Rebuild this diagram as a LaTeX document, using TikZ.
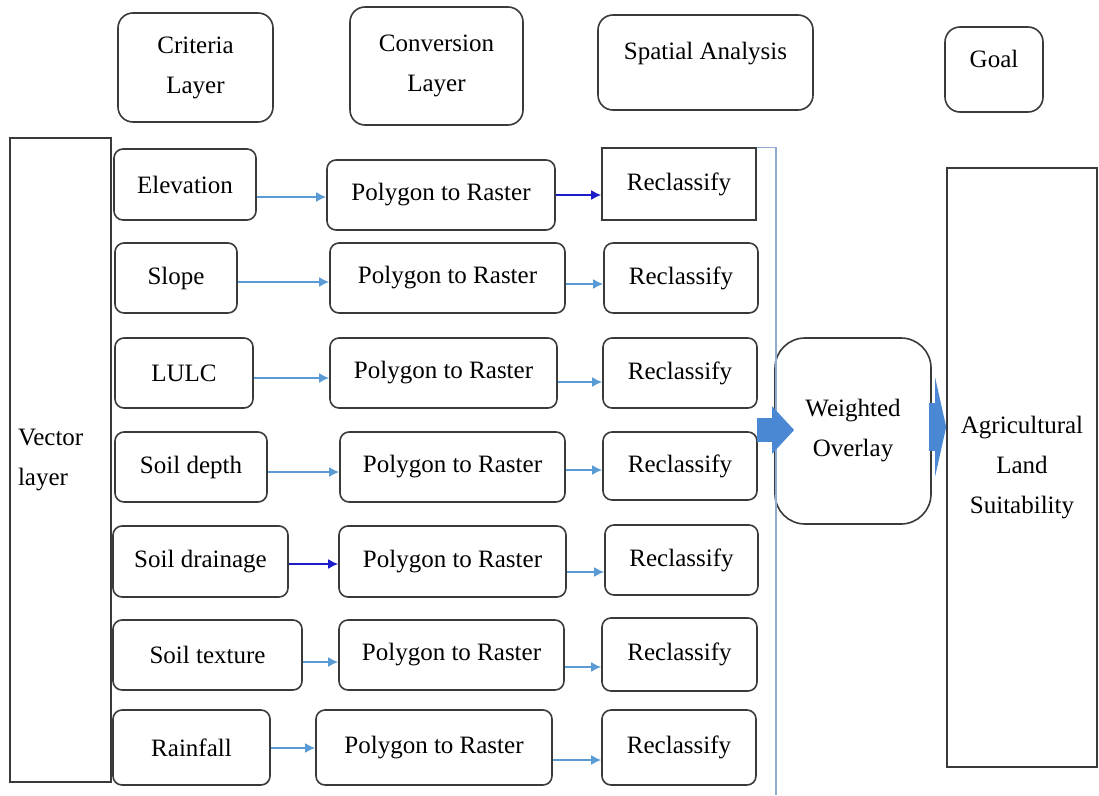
\documentclass[tikz,border=0pt]{standalone}
\usepackage{fontspec}
\setmainfont{Liberation Serif}
\usetikzlibrary{arrows.meta,calc}
\definecolor{linkblue}{HTML}{5B9BD5}
\definecolor{darkblue}{HTML}{1C1CC8}
\definecolor{spineblue}{HTML}{8FAAD4}
\definecolor{fatblue}{HTML}{4A88D4}
\definecolor{edgegray}{HTML}{3A3A3A}

\begin{document}
\begin{tikzpicture}[x=1pt,y=-1pt,font=\fontsize{25}{40}\selectfont,box/.style={draw=edgegray,line width=1.6pt,rounded corners=9pt,inner sep=0,align=center},head/.style={box,rounded corners=15pt},plain/.style={draw=edgegray,line width=1.6pt,inner sep=0,align=center},link/.style={linkblue,line width=1.8pt,-{Latex[length=10pt,width=10pt]}},dlink/.style={link,darkblue},fat/.style={fatblue,-{Triangle[length=22pt,width=46pt]}}]
\useasboundingbox (0,0) rectangle (1099,795);

% Nodes
\node[head,minimum width=155pt,minimum height=109pt] (hc) at (195.5,67.5) {Criteria\\Layer};
\node[head,minimum width=173pt,minimum height=118pt] (hv) at (436.5,66) {Conversion\\Layer};
\node[head,minimum width=215pt,minimum height=95pt,text depth=24pt] (hs) at (705.5,62.5) {Spatial Analysis};
\node[head,minimum width=98pt,minimum height=85pt,text depth=21pt] (hg) at (994,69.5) {Goal};

\node[plain,minimum width=101pt,minimum height=644pt,text width=85pt,align=left] (vec) at (60.5,460) {Vector\\layer};

\node[box,minimum width=142pt,minimum height=71pt] (c1) at (185,184.5) {Elevation};
\node[box,minimum width=122pt,minimum height=70pt] (c2) at (176,278) {Slope};
\node[box,minimum width=138pt,minimum height=70pt] (c3) at (184,373) {LULC};
\node[box,minimum width=152pt,minimum height=70pt] (c4) at (191,467) {Soil depth};
\node[box,minimum width=175pt,minimum height=71pt] (c5) at (200.5,561.5) {Soil drainage};
\node[box,minimum width=189pt,minimum height=70pt] (c6) at (207.5,655) {Soil texture};
\node[box,minimum width=157pt,minimum height=75pt] (c7) at (191.5,747.5) {Rainfall};

\node[box,minimum width=228pt,minimum height=70pt] (p1) at (441,195) {Polygon to Raster};
\node[box,minimum width=235pt,minimum height=70pt] (p2) at (447.5,278) {Polygon to Raster};
\node[box,minimum width=227pt,minimum height=70pt] (p3) at (443.5,373) {Polygon to Raster};
\node[box,minimum width=225pt,minimum height=70pt] (p4) at (452.5,467) {Polygon to Raster};
\node[box,minimum width=227pt,minimum height=71pt] (p5) at (452.5,561.5) {Polygon to Raster};
\node[box,minimum width=225pt,minimum height=70pt] (p6) at (451.5,655) {Polygon to Raster};
\node[box,minimum width=236pt,minimum height=75pt] (p7) at (434,747.5) {Polygon to Raster};

\node[plain,minimum width=154pt,minimum height=72pt] (r1) at (679,184) {Reclassify};
\node[box,minimum width=154pt,minimum height=70pt] (r2) at (681,278) {Reclassify};
\node[box,minimum width=154pt,minimum height=70pt] (r3) at (680,373) {Reclassify};
\node[box,minimum width=154pt,minimum height=68pt] (r4) at (680,466) {Reclassify};
\node[box,minimum width=153pt,minimum height=70pt] (r5) at (681.5,560) {Reclassify};
\node[box,minimum width=155pt,minimum height=73pt] (r6) at (679.5,654.5) {Reclassify};
\node[box,minimum width=154pt,minimum height=75pt] (r7) at (679,747.5) {Reclassify};

\node[box,rounded corners=30pt,minimum width=156pt,minimum height=186pt] (wo) at (853,431) {Weighted\\Overlay};
\node[plain,minimum width=150pt,minimum height=599pt] (ag) at (1022,467.5) {Agricultural\\Land\\Suitability};
\coordinate (spbot) at (776,795);

%arcs
\path ($(c1.east |- p1)+(0,2)$) edge[link] ($(p1.west)+(0,2)$);
\path (p1.east) edge[dlink] (r1.west |- p1);
\path ($(c2.east |- p2)+(0,4)$) edge[link] ($(p2.west)+(0,4)$);
\path ($(p2.east)+(0,6)$) edge[link] ($(r2.west |- p2)+(0,6)$);
\path ($(c3.east |- p3)+(0,5)$) edge[link] ($(p3.west)+(0,5)$);
\path ($(p3.east)+(0,9)$) edge[link] ($(r3.west |- p3)+(0,9)$);
\path ($(c4.east |- p4)+(0,5)$) edge[link] ($(p4.west)+(0,5)$);
\path ($(p4.east)+(0,3)$) edge[link] ($(r4.west |- p4)+(0,3)$);
\path ($(c5.east |- p5)+(0,2.5)$) edge[dlink] ($(p5.west)+(0,2.5)$);
\path ($(p5.east)+(0,10.5)$) edge[link] ($(r5.west |- p5)+(0,10.5)$);
\path ($(c6.east |- p6)+(0,7)$) edge[link] ($(p6.west)+(0,7)$);
\path ($(p6.east)+(0,12)$) edge[link] ($(r6.west |- p6)+(0,12)$);
\path ($(c7.east |- p7)+(0,0.5)$) edge[link] ($(p7.west)+(0,0.5)$);
\path ($(p7.east)+(0,12.5)$) edge[link] ($(r7.west |- p7)+(0,12.5)$);

\draw[spineblue,line width=1.4pt] (r1.north east) -| (spbot);
\draw[fat,line width=24pt] ($(wo.west)+(-17,-1)$) -- ($(wo.west)+(20,-1)$);
\draw[fat,line width=48pt,-{Triangle[length=11pt,width=98pt]}] ($(wo.east)+(-3,-4)$) -- ($(ag.west |- wo.east)+(0,-4)$);

\end{tikzpicture}
\end{document}
